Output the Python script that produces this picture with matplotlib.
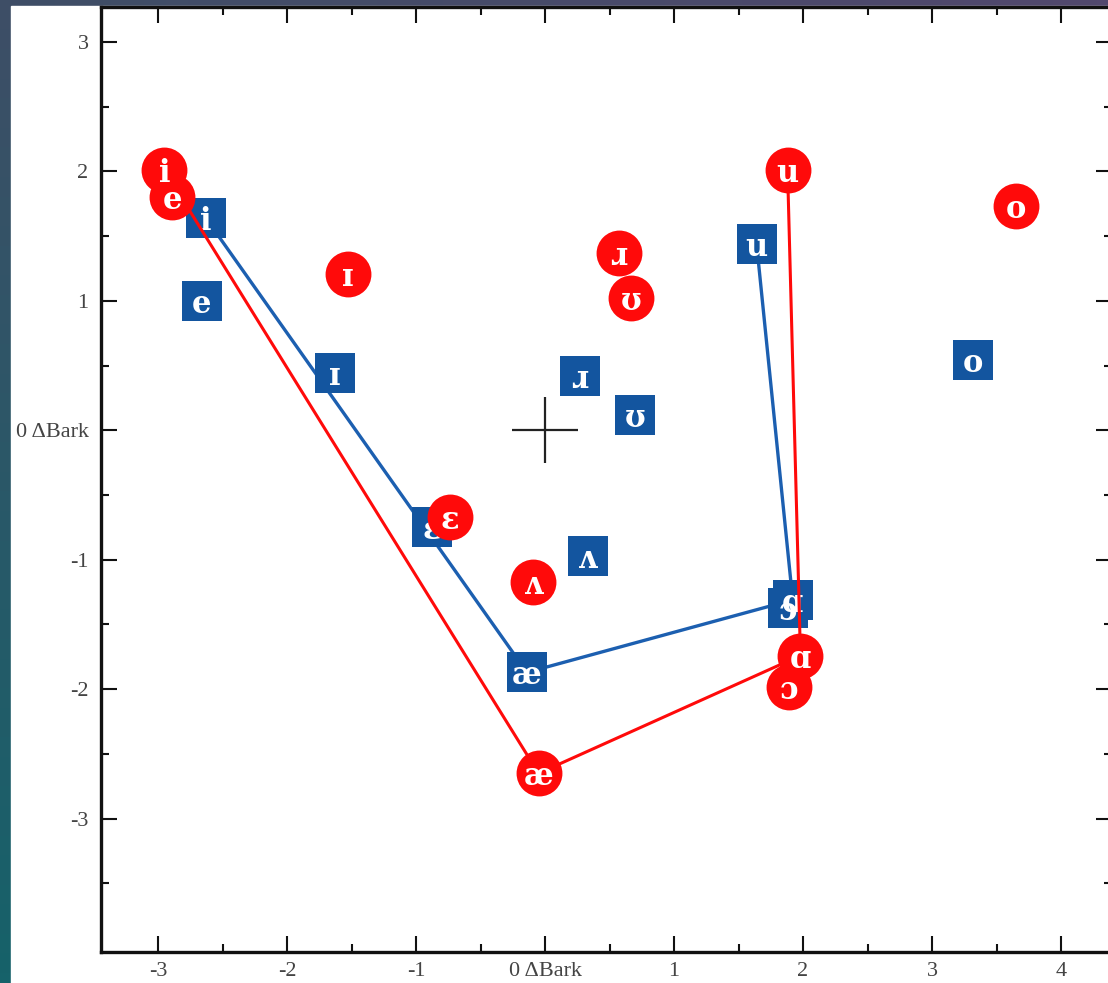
import numpy as np
import matplotlib
matplotlib.use("Agg")
import matplotlib.pyplot as plt
from matplotlib.patches import Rectangle

# vowel positions (delta Bark), two speakers / conditions
vowels = ['i', 'e', 'ɪ', 'ɛ', 'æ', 'ʌ', 'ɹ', 'ʊ', 'u', 'o', 'ɔ', 'ɑ']
red_x = [-2.95, -2.89, -1.53, -0.74, -0.05, -0.09, 0.57, 0.67, 1.88, 3.65, 1.89, 1.98]
red_y = [2.01, 1.80, 1.21, -0.67, -2.65, -1.17, 1.37, 1.02, 2.01, 1.73, -1.98, -1.74]
blue_x = [-2.63, -2.66, -1.63, -0.88, -0.14, 0.33, 0.27, 0.70, 1.64, 3.32, 1.88, 1.92]
blue_y = [1.64, 1.00, 0.44, -0.75, -1.87, -0.97, 0.42, 0.12, 1.44, 0.54, -1.37, -1.31]
outline = ['i', 'æ', 'ɑ', 'u']

xticks = [-3, -2, -1, 0, 1, 2, 3, 4]
xlabels = ['-3', '-2', '-1', '0 ΔBark', '1', '2', '3', '4']
yticks = [-3, -2, -1, 0, 1, 2, 3]
ylabels = ['-3', '-2', '-1', '0 ΔBark', '1', '2', '3']

red = '#ff0a0a'
blue = '#13559f'

fig = plt.figure(figsize=(11.08, 9.83), dpi=100)

# dark gradient background behind the white page
bg = fig.add_axes([0, 0, 1, 1], zorder=-10)
tl = np.array([62, 78, 102]) / 255
tr = np.array([82, 72, 110]) / 255
bl = np.array([22, 98, 106]) / 255
br = np.array([40, 90, 110]) / 255
yy, xx = np.mgrid[0:1:100j, 0:1:100j]
img = (tl * (1 - xx[..., None]) * (1 - yy[..., None]) + tr * xx[..., None] * (1 - yy[..., None])
       + bl * (1 - xx[..., None]) * yy[..., None] + br * xx[..., None] * yy[..., None])
bg.imshow(img, extent=[0, 1, 0, 1], aspect='auto', origin='upper')
bg.add_patch(Rectangle((11 / 1108, 0), 1, 1 - 6 / 983, color='white'))
bg.set_xlim(0, 1)
bg.set_ylim(0, 1)
bg.axis('off')

ax = fig.add_axes([101 / 1108, 31 / 983, (1112 - 101) / 1108, (952 - 7) / 983])
ax.set_facecolor('none')

ipa = dict(color='white', fontsize=22, fontweight='bold', family='DejaVu Serif',
           ha='center', va='center_baseline')

# blue set
bi = [vowels.index(v) for v in outline]
ax.plot([blue_x[i] for i in bi], [blue_y[i] for i in bi], color='#1c5fb0', lw=2.4, zorder=1)
ax.scatter(blue_x, blue_y, marker='s', s=830, color=blue, linewidths=0, zorder=2)
for v, x, y in zip(vowels, blue_x, blue_y):
    ax.text(x, y, v, zorder=2.5, **ipa)

# red set
ri = [vowels.index(v) for v in outline]
ax.plot([red_x[i] for i in ri], [red_y[i] for i in ri], color=red, lw=2.2, zorder=3)
ax.scatter(red_x, red_y, marker='o', s=1090, color=red, linewidths=0, zorder=4)
for v, x, y in zip(vowels, red_x, red_y):
    ax.text(x, y, v, zorder=4.5, **ipa)

# origin cross
ax.plot([0], [0], marker='+', markersize=48, markeredgewidth=1.6, color='#222222', zorder=1)

ax.set_xticks(xticks)
ax.set_xticklabels(xlabels)
ax.set_yticks(yticks)
ax.set_yticklabels(ylabels)
ax.set_xticks(np.arange(-2.5, 4.0, 1.0), minor=True)
ax.set_yticks(np.arange(-3.5, 3.0, 1.0), minor=True)
ax.set_xlim(-3.442, 4.395)
ax.set_ylim(-4.03, 3.27)
ax.tick_params(which='both', direction='in', top=True, right=True, width=1.5, color='#111111',
               labelsize=16, labelcolor='#444444', labelfontfamily='Liberation Serif')
ax.tick_params(which='major', length=11.5)
ax.tick_params(which='minor', length=6)
ax.tick_params(axis='y', pad=9)
ax.tick_params(axis='x', pad=7)
for s in ax.spines.values():
    s.set_linewidth(2.4)
    s.set_color('#111111')

fig.savefig('out.png', dpi=100)
